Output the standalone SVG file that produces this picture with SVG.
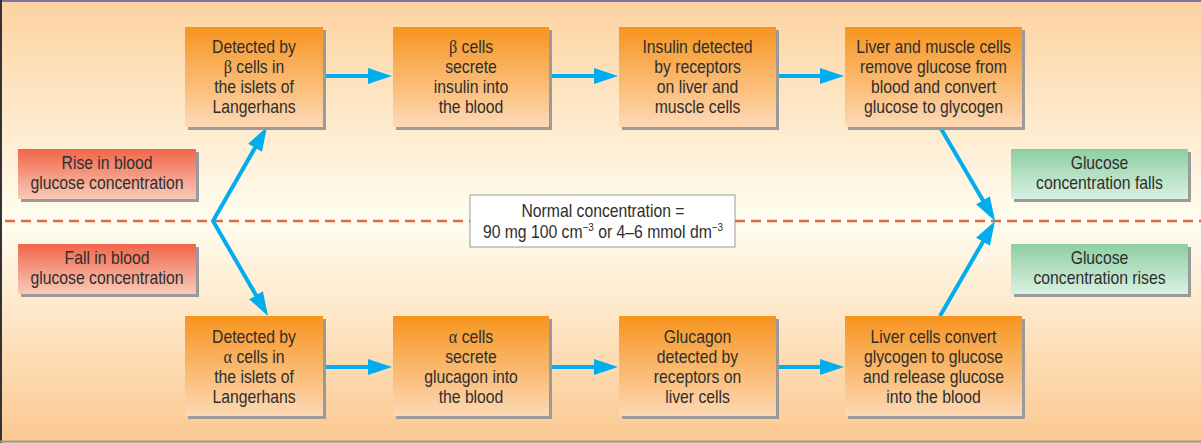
<svg xmlns="http://www.w3.org/2000/svg" width="1201" height="443" viewBox="0 0 1201 443">
<defs>
<linearGradient id="bg" x1="0" y1="0" x2="0" y2="1">
<stop offset="0" stop-color="#fdd2a0"/>
<stop offset="0.5" stop-color="#fffdf0"/>
<stop offset="1" stop-color="#fcc890"/>
</linearGradient>
<linearGradient id="og" x1="0" y1="0" x2="0" y2="1">
<stop offset="0" stop-color="#f7941e"/>
<stop offset="1" stop-color="#fdd9b6"/>
</linearGradient>
<linearGradient id="rg" x1="0" y1="0" x2="0" y2="1">
<stop offset="0" stop-color="#f1654a"/>
<stop offset="1" stop-color="#f9cbb8"/>
</linearGradient>
<linearGradient id="gg" x1="0" y1="0" x2="0" y2="1">
<stop offset="0" stop-color="#8dcfa2"/>
<stop offset="1" stop-color="#daf0e2"/>
</linearGradient>
<marker id="ah" markerUnits="userSpaceOnUse" markerWidth="24" markerHeight="16" refX="18" refY="8" orient="auto-start-reverse" viewBox="0 0 24 16">
<path d="M0,0 L24,8 L0,16 z" fill="#00aeef"/>
</marker>
</defs>
<style>
.sh{fill:#9a9a9a}
.ob{fill:url(#og)}
.rb{fill:url(#rg)}
.gb{fill:url(#gg)}
text{font-family:"Liberation Sans",Arial,sans-serif;font-size:17.5px;fill:#2e2e2e;text-anchor:middle}
.gk{font-family:"Liberation Serif","Times New Roman",serif;font-size:18px}
.c{stroke:#00aeef;stroke-width:4;fill:none;marker-end:url(#ah)}
.d{stroke:#e0693a;stroke-width:2.5;stroke-dasharray:10 6;fill:none}
</style>
<rect x="0" y="0" width="1201" height="443" fill="url(#bg)"/>
<line x1="0" y1="1" x2="1201" y2="1" stroke="#7d74a8" stroke-width="2"/>
<line x1="1" y1="0" x2="1" y2="443" stroke="#333" stroke-width="2"/>
<line x1="0" y1="441.5" x2="1201" y2="441.5" stroke="#9a9a9a" stroke-width="2"/>

<g id="divider">
<line class="d" x1="5" y1="221" x2="470" y2="221"/>
<line class="d" x1="735" y1="221" x2="1201" y2="221"/>
</g>

<g id="connectors">
<line class="c" x1="323" y1="76" x2="386" y2="76"/>
<line class="c" x1="549" y1="76" x2="612" y2="76"/>
<line class="c" x1="776" y1="76" x2="838" y2="76"/>
<line class="c" x1="323" y1="367" x2="386" y2="367"/>
<line class="c" x1="549" y1="367" x2="612" y2="367"/>
<line class="c" x1="776" y1="367" x2="838" y2="367"/>
<path class="c" style="marker-start:url(#ah)" d="M264,132.2 L213,221 L265,310.8"/>
<line class="c" x1="940" y1="127" x2="992" y2="215.8"/>
<line class="c" x1="940" y1="316" x2="992" y2="226.2"/>
</g>

<g id="rise">
<rect class="sh" x="21" y="152" width="178" height="50"/>
<rect class="rb" x="18" y="149" width="178" height="50"/>
<g transform="translate(107 0) scale(0.9 1)">
<text y="169">Rise in blood</text>
<text y="189">glucose concentration</text>
</g>
</g>
<g id="fall">
<rect class="sh" x="21" y="247" width="178" height="50"/>
<rect class="rb" x="18" y="244" width="178" height="50"/>
<g transform="translate(107 0) scale(0.9 1)">
<text y="264">Fall in blood</text>
<text y="284">glucose concentration</text>
</g>
</g>

<g id="beta-detect">
<rect class="sh" x="188" y="30" width="138" height="100"/>
<rect class="ob" x="185" y="27" width="138" height="100"/>
<g transform="translate(254 0) scale(0.9 1)">
<text y="53">Detected by</text>
<text y="73"><tspan class="gk">β</tspan> cells in</text>
<text y="93">the islets of</text>
<text y="113">Langerhans</text>
</g>
</g>
<g id="beta-secrete">
<rect class="sh" x="396" y="30" width="156" height="100"/>
<rect class="ob" x="393" y="27" width="156" height="100"/>
<g transform="translate(471 0) scale(0.9 1)">
<text y="53"><tspan class="gk">β</tspan> cells</text>
<text y="73">secrete</text>
<text y="93">insulin into</text>
<text y="113">the blood</text>
</g>
</g>
<g id="insulin-detect">
<rect class="sh" x="622" y="30" width="157" height="100"/>
<rect class="ob" x="619" y="27" width="157" height="100"/>
<g transform="translate(697.5 0) scale(0.9 1)">
<text y="53">Insulin detected</text>
<text y="73">by receptors</text>
<text y="93">on liver and</text>
<text y="113">muscle cells</text>
</g>
</g>
<g id="liver-muscle">
<rect class="sh" x="848" y="30" width="177" height="100"/>
<rect class="ob" x="845" y="27" width="177" height="100"/>
<g transform="translate(933.5 0) scale(0.9 1)">
<text y="53">Liver and muscle cells</text>
<text y="73">remove glucose from</text>
<text y="93">blood and convert</text>
<text y="113">glucose to glycogen</text>
</g>
</g>

<g id="alpha-detect">
<rect class="sh" x="188" y="319" width="138" height="100"/>
<rect class="ob" x="185" y="316" width="138" height="100"/>
<g transform="translate(254 0) scale(0.9 1)">
<text y="343">Detected by</text>
<text y="363"><tspan class="gk">α</tspan> cells in</text>
<text y="383">the islets of</text>
<text y="403">Langerhans</text>
</g>
</g>
<g id="alpha-secrete">
<rect class="sh" x="396" y="319" width="156" height="100"/>
<rect class="ob" x="393" y="316" width="156" height="100"/>
<g transform="translate(471 0) scale(0.9 1)">
<text y="343"><tspan class="gk">α</tspan> cells</text>
<text y="363">secrete</text>
<text y="383">glucagon into</text>
<text y="403">the blood</text>
</g>
</g>
<g id="glucagon-detect">
<rect class="sh" x="622" y="319" width="157" height="100"/>
<rect class="ob" x="619" y="316" width="157" height="100"/>
<g transform="translate(697.5 0) scale(0.9 1)">
<text y="343">Glucagon</text>
<text y="363">detected by</text>
<text y="383">receptors on</text>
<text y="403">liver cells</text>
</g>
</g>
<g id="liver-convert">
<rect class="sh" x="848" y="319" width="177" height="100"/>
<rect class="ob" x="845" y="316" width="177" height="100"/>
<g transform="translate(933.5 0) scale(0.9 1)">
<text y="343">Liver cells convert</text>
<text y="363">glycogen to glucose</text>
<text y="383">and release glucose</text>
<text y="403">into the blood</text>
</g>
</g>

<g id="falls">
<rect class="sh" x="1014" y="152" width="177" height="50"/>
<rect class="gb" x="1011" y="149" width="177" height="50"/>
<g transform="translate(1099.5 0) scale(0.9 1)">
<text y="169">Glucose</text>
<text y="189">concentration falls</text>
</g>
</g>
<g id="rises">
<rect class="sh" x="1014" y="247" width="177" height="50"/>
<rect class="gb" x="1011" y="244" width="177" height="50"/>
<g transform="translate(1099.5 0) scale(0.9 1)">
<text y="264">Glucose</text>
<text y="284">concentration rises</text>
</g>
</g>

<g id="normal">
<rect x="470" y="195" width="265" height="52" fill="#fff" stroke="#999" stroke-width="1"/>
<g transform="translate(603 0) scale(0.9 1)">
<text y="217">Normal concentration =</text>
<text y="238">90 mg 100 cm<tspan font-size="11" dy="-7">−3</tspan><tspan dy="7"> or 4–6 mmol dm</tspan><tspan font-size="11" dy="-7">−3</tspan></text>
</g>
</g>
</svg>
